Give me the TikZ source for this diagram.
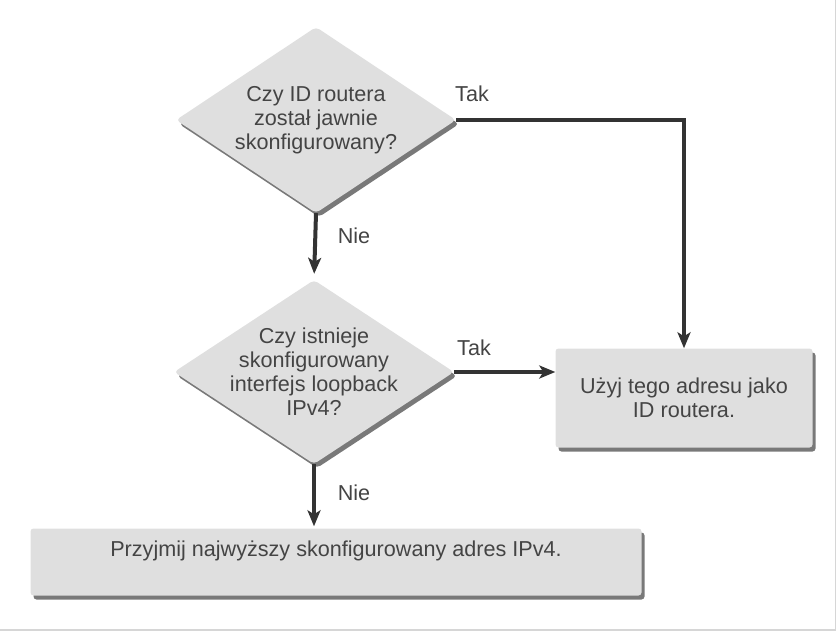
\documentclass[tikz,border=0pt]{standalone}
\usepackage{fontspec}
\setmainfont{Liberation Sans}
\usetikzlibrary{arrows.meta, shadows, positioning, shapes.geometric}
\definecolor{flowfill}{RGB}{223,223,223}
\definecolor{flowline}{RGB}{51,51,51}
\definecolor{flowtext}{RGB}{68,68,68}
\definecolor{flowframe}{RGB}{214,214,214}

\begin{document}
\begin{tikzpicture}[x=1pt, y=-1pt,
    shade/.style={drop shadow={shadow xshift=3pt, shadow yshift=-4pt, fill=black!70, opacity=0.75}},
    decision/.style={diamond, fill=flowfill, rounded corners=4pt, inner sep=0pt,
        minimum width=280pt, minimum height=186pt, shade},
    action/.style={rectangle, fill=flowfill, rounded corners=3pt, inner sep=0pt, shade},
    words/.style={text=flowtext, align=center, font=\fontsize{21.6pt}{24pt}\selectfont},
    flow/.style={draw=flowline, line width=4pt, -{Stealth[length=16pt, width=13pt, inset=4pt]}}]
    \useasboundingbox (0, 0) rectangle (837, 632);
    \draw[flowframe, line width=1.5pt] (0, 630) -- (835.5, 630) -- (835.5, 0);

    \node[decision] (qRouterId) at (316, 120) {};
    \node[decision, minimum height=184pt] (qLoopback) at (314, 372) {};
    \node[action, minimum width=257pt, minimum height=99pt] (useAddr) at (684, 398) {};
    \node[action, minimum width=611pt, minimum height=67pt] (useHighest) at (336, 562) {};

    \node[words] (tRouterId) at (qRouterId) {Czy ID routera\\został jawnie\\skonfigurowany?};
    \node[words] (tLoopback) at (qLoopback) {Czy istnieje\\skonfigurowany\\interfejs loopback\\IPv4?};
    \node[words] (tAddr) at (useAddr) {Użyj tego adresu jako\\ID routera.};
    \node[words] (tHighest) at (336, 551) {Przyjmij najwyższy skonfigurowany adres IPv4.};

    \draw[flow] (qRouterId.east) -| (useAddr.north);
    \draw[flow, shorten >=6pt] (qRouterId.south) -- (qLoopback.north);
    \draw[flow] (qLoopback.east) -- (qLoopback.east -| useAddr.west);
    \draw[flow, shorten >=2pt] (qLoopback.south) -- (useHighest.north -| qLoopback.south);

    \node[words] (yes1) at (472, 94) {Tak};
    \node[words] (no1) at (354, 236) {Nie};
    \node[words] (yes2) at (474, 348) {Tak};
    \node[words] (no2) at (354, 493) {Nie};
\end{tikzpicture}
\end{document}
